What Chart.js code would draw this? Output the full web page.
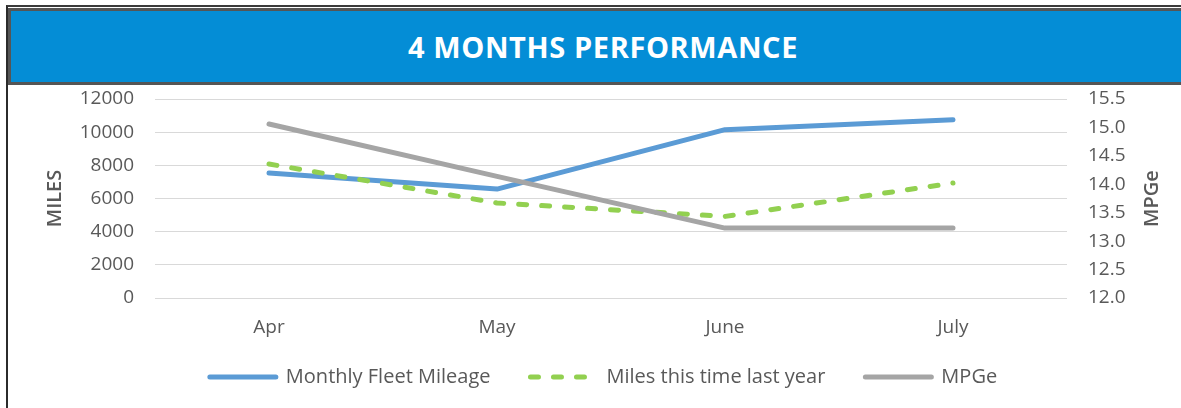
<!DOCTYPE html>
<html>
<head>
<meta charset="utf-8">
<script src="https://cdn.jsdelivr.net/npm/chart.js@4/dist/chart.umd.min.js"></script>
<style>
  html, body { margin: 0; padding: 0; background: #ffffff; }
  body { width: 1181px; height: 408px; position: relative; overflow: hidden; }
  #frame { position: absolute; left: 6px; top: 5px; width: 1200px; height: 420px;
           border-left: 2px solid #2b2b2b; border-top: 2px solid #3a3a3a; }
  #titlebar { position: absolute; left: 8px; top: 8px; width: 1190px; height: 71px;
              background: #048dd6; border: 3px solid #555555;
              color: #ffffff; font-family: "Open Sans", sans-serif; font-weight: 700;
              font-size: 29px; letter-spacing: 0.6px; line-height: 71px; }
  #titlebar span { position: absolute; left: 0; width: 1184px; text-align: center; }
  #c { position: absolute; left: 0; top: 0; }
</style>
</head>
<body>
<div id="frame"></div>
<div id="titlebar"><span>4 MONTHS PERFORMANCE</span></div>
<canvas id="c" width="1181" height="408"></canvas>
<script>
const categories = ["Apr", "May", "June", "July"];
const monthlyFleetMileage = [7540, 6570, 10150, 10750];
const milesLastYear = [8080, 5730, 4920, 6930];
const mpge = [15.06, 14.14, 13.23, 13.23];
const seriesNames = ["Monthly Fleet Mileage", "Miles this time last year", "MPGe"];
const leftTicks = [0, 2000, 4000, 6000, 8000, 10000, 12000];
const rightTicks = [12.0, 12.5, 13.0, 13.5, 14.0, 14.5, 15.0, 15.5];
const leftAxisTitle = "MILES";
const rightAxisTitle = "MPGe";

const textColor = "#595959";
const FONT = "'Open Sans', sans-serif";

// Draws the right axis title reading bottom-to-top, like the reference.
const rightTitlePlugin = {
  id: "rightTitle",
  afterDraw(chart) {
    const s = chart.scales.y1;
    const ctx = chart.ctx;
    ctx.save();
    ctx.translate(s.right - 15, (chart.chartArea.top + chart.chartArea.bottom) / 2);
    ctx.rotate(-Math.PI / 2);
    ctx.font = "600 20px " + FONT;
    ctx.fillStyle = textColor;
    ctx.textAlign = "center";
    ctx.textBaseline = "middle";
    ctx.fillText(rightAxisTitle, 0, 0);
    ctx.restore();
  }
};

new Chart(document.getElementById("c"), {
  type: "line",
  data: {
    labels: categories,
    datasets: [
      {
        label: seriesNames[0], data: monthlyFleetMileage, yAxisID: "y",
        borderColor: "#5b9bd5", backgroundColor: "#5b9bd5", borderWidth: 5,
        borderCapStyle: "round", borderJoinStyle: "round",
        pointRadius: 0, tension: 0, order: 2
      },
      {
        label: seriesNames[1], data: milesLastYear, yAxisID: "y",
        borderColor: "#92d050", backgroundColor: "#92d050", borderWidth: 5,
        borderDash: [8, 15], borderCapStyle: "round", borderJoinStyle: "round",
        pointRadius: 0, tension: 0, order: 1
      },
      {
        label: seriesNames[2], data: mpge, yAxisID: "y1",
        borderColor: "#a5a5a5", backgroundColor: "#a5a5a5", borderWidth: 5,
        borderCapStyle: "round", borderJoinStyle: "round",
        pointRadius: 0, tension: 0, order: 0
      }
    ]
  },
  plugins: [rightTitlePlugin],
  options: {
    responsive: false,
    animation: false,
    layout: { padding: { left: 40, right: 14, top: 99, bottom: 11 } },
    plugins: {
      title: { display: false },
      tooltip: { enabled: false },
      legend: {
        position: "bottom",
        labels: {
          usePointStyle: true, pointStyle: "line", pointStyleWidth: 66,
          padding: 40, color: textColor,
          font: { family: FONT, size: 20 },
          sort: (a, b) => a.datasetIndex - b.datasetIndex,
          generateLabels: (chart) => {
            const items = Chart.defaults.plugins.legend.labels.generateLabels(chart);
            return items.map((it) => {
              const ds = chart.data.datasets[it.datasetIndex];
              return Object.assign(it, {
                strokeStyle: ds.borderColor,
                fillStyle: ds.borderColor,
                lineWidth: ds.borderWidth,
                lineDash: ds.borderDash || [],
                lineDashOffset: 0,
                lineCap: "round",
                pointStyle: "line"
              });
            });
          }
        }
      }
    },
    scales: {
      x: {
        offset: true,
        grid: { display: false, drawTicks: false },
        border: { display: false },
        ticks: { color: textColor, font: { family: FONT, size: 19 }, padding: 18, maxRotation: 0 },
        afterFit: (s) => { s.height = 29; s._computeLabelArea = () => undefined; }
      },
      y: {
        position: "left", min: 0, max: 12000,
        afterBuildTicks: (s) => { s.ticks = leftTicks.map(v => ({ value: v })); },
        grid: { color: "#d9d9d9", lineWidth: 1, drawTicks: false },
        border: { display: false },
        ticks: { color: textColor, font: { family: FONT, size: 19 }, padding: 21,
                 callback: (v) => String(v) },
        title: { display: true, text: leftAxisTitle, color: textColor,
                 font: { family: FONT, size: 20, weight: 600 }, padding: { top: 3, bottom: 0 } },
        afterFit: (s) => { s.width = 115; }
      },
      y1: {
        position: "right", min: 12, max: 15.5,
        afterBuildTicks: (s) => { s.ticks = rightTicks.map(v => ({ value: v })); },
        grid: { drawOnChartArea: false, drawTicks: false },
        border: { display: false },
        ticks: { color: textColor, font: { family: FONT, size: 19 }, padding: 21,
                 callback: (v) => Number(v).toFixed(1) },
        afterFit: (s) => { s.width = 100; }
      }
    }
  }
});
</script>
</body>
</html>
